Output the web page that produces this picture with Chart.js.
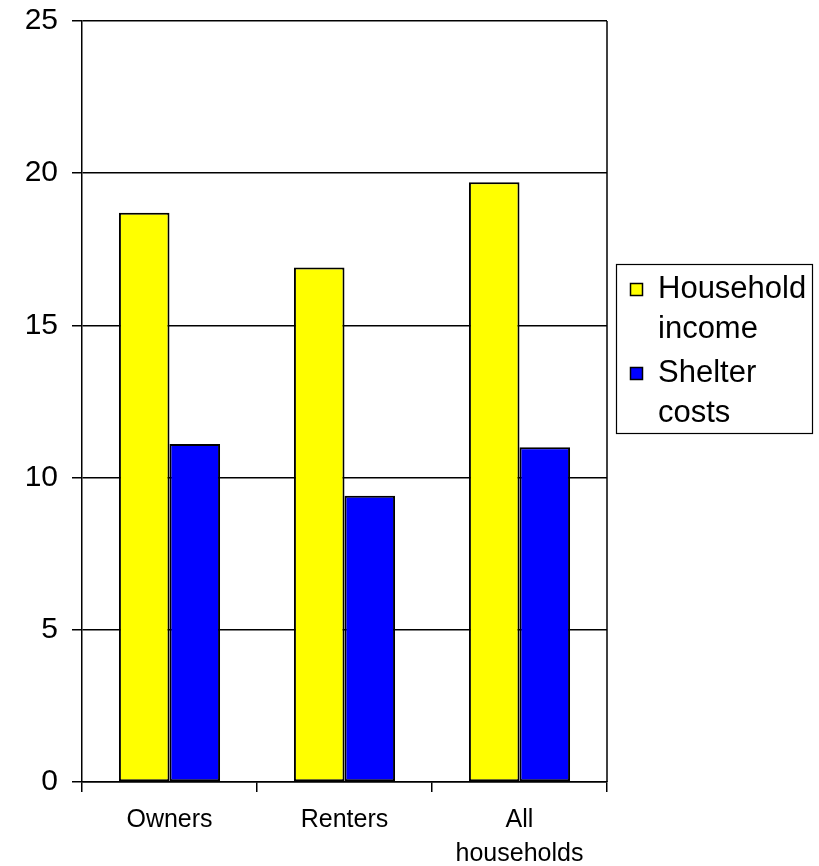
<!DOCTYPE html>
<html>
<head>
<meta charset="utf-8">
<script src="https://cdn.jsdelivr.net/npm/chart.js@4"></script>
<style>
  html, body { margin: 0; padding: 0; background: #fff; }
  #wrap { width: 819px; height: 866px; position: relative; }
</style>
</head>
<body>
<div id="wrap"><canvas id="myChart"></canvas></div>
<script>
const categories = [['Owners'], ['Renters'], ['All', 'households']];
const seriesNames = [['Household', 'income'], ['Shelter', 'costs']];
const householdIncome = [18.7, 16.9, 19.7];
const shelterCosts = [11.1, 9.4, 11.0];
const yTicks = [0, 5, 10, 15, 20, 25];

const FONT = "'Liberation Sans', Arial, sans-serif";

// right border of the plot area + multi-line legend box
const extras = {
  id: 'extras',
  afterDraw(chart) {
    const c = chart.ctx, a = chart.chartArea;
    c.save();
    c.strokeStyle = '#000';
    c.lineWidth = 1.5;
    c.beginPath();
    c.moveTo(a.right, a.top);
    c.lineTo(a.right, a.bottom);
    c.stroke();

    // legend
    const bx = a.right + 9, by = 264, bw = 196, bh = 169;
    c.lineWidth = 1.2;
    c.strokeRect(bx + 0.5, by + 0.5, bw, bh);
    c.font = '31px ' + FONT;
    c.textBaseline = 'middle';
    c.textAlign = 'left';
    const starts = [289, 373];
    chart.data.datasets.forEach((ds, i) => {
      const y0 = starts[i];
      c.fillStyle = ds.backgroundColor;
      c.fillRect(bx + 14, y0 - 6, 13, 13);
      c.strokeStyle = '#000';
      c.lineWidth = 1.5;
      c.strokeRect(bx + 14.5, y0 - 5.5, 12, 12);
      c.fillStyle = '#000';
      ds.label.forEach((t, j) => c.fillText(t, bx + 42, y0 + j * 40));
    });
    c.restore();
  }
};

new Chart(document.getElementById('myChart'), {
  type: 'bar',
  data: {
    labels: categories,
    datasets: [
      {
        label: seriesNames[0],
        data: householdIncome,
        backgroundColor: '#ffff00',
        borderColor: '#000',
        borderWidth: 2,
        borderSkipped: false
      },
      {
        label: seriesNames[1],
        data: shelterCosts,
        backgroundColor: '#0000ff',
        borderColor: '#000',
        borderWidth: 2,
        borderSkipped: false
      }
    ]
  },
  options: {
    responsive: true,
    maintainAspectRatio: false,
    animation: false,
    layout: { padding: { left: 0, right: 212, top: 21, bottom: 0 } },
    datasets: { bar: { categoryPercentage: 0.578, barPercentage: 1 } },
    plugins: {
      legend: { display: false },
      tooltip: { enabled: false }
    },
    scales: {
      x: {
        grid: {
          offset: true,
          drawOnChartArea: false,
          drawTicks: true,
          tickLength: 10,
          color: '#000',
          lineWidth: 1.5
        },
        border: { color: '#000', width: 1.5 },
        ticks: {
          color: '#000',
          font: { family: FONT, size: 25, lineHeight: 1.36 },
          padding: 11,
          maxRotation: 0
        },
        afterFit(s) { s.height = 84; s.paddingLeft = 0; s.paddingRight = 0; }
      },
      y: {
        min: 0,
        max: 25,
        afterBuildTicks(s) { s.ticks = yTicks.map(v => ({ value: v })); },
        grid: {
          color: '#000',
          lineWidth: 1.5,
          tickLength: 10
        },
        border: { color: '#000', width: 1.5 },
        ticks: {
          color: '#000',
          font: { family: FONT, size: 30 },
          padding: 14
        },
        afterFit(s) { s.width = 82; s.paddingTop = 0; s.paddingBottom = 0; }
      }
    }
  },
  plugins: [extras]
});
</script>
</body>
</html>
